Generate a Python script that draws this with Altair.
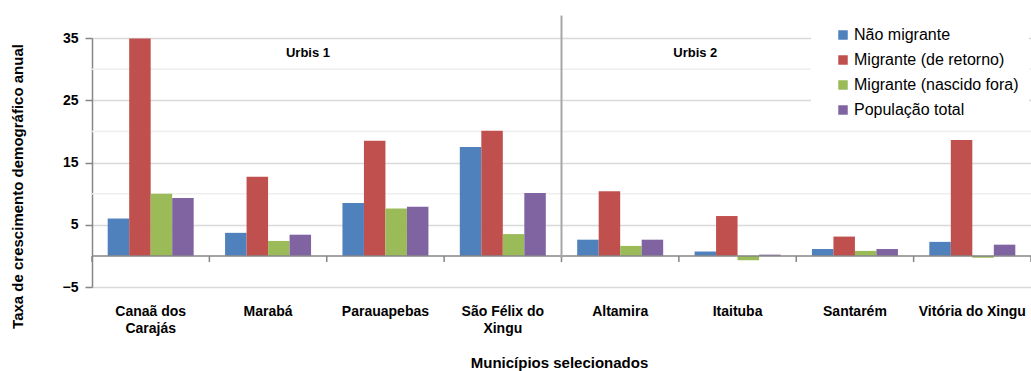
import altair as alt
import pandas as pd

# Municipalities (a "|" marks a line break in the axis label)
municipios = [
    "Canaã dos|Carajás", "Marabá", "Parauapebas", "São Félix do|Xingu",
    "Altamira", "Itaituba", "Santarém", "Vitória do Xingu",
]
series = ["Não migrante", "Migrante (de retorno)", "Migrante (nascido fora)", "População total"]

nao_migrante = [6.0, 3.7, 8.5, 17.5, 2.6, 0.7, 1.1, 2.25]
migrante_retorno = [34.9, 12.7, 18.5, 20.1, 10.4, 6.4, 3.1, 18.6]
migrante_fora = [10.0, 2.4, 7.6, 3.5, 1.6, -0.7, 0.8, -0.3]
populacao_total = [9.3, 3.4, 7.9, 10.1, 2.6, 0.2, 1.1, 1.8]

colors = ["#4F81BD", "#C0504D", "#9BBB59", "#8064A2"]
y_major = [-5, 5, 15, 25, 35]
y_minor = [10, 20, 30]
groups = ["Urbis 1", "Urbis 2"]

FONT = "Liberation Sans"
AXIS_GRAY = "#868686"

rows = []
for s, vals in zip(series, [nao_migrante, migrante_retorno, migrante_fora, populacao_total]):
    for m, v in zip(municipios, vals):
        rows.append({"municipio": m, "serie": s, "valor": v})
df = pd.DataFrame(rows)

x_scale = alt.Scale(domain=municipios, paddingInner=0, paddingOuter=0)
y_scale = alt.Scale(domain=[-5, 35], nice=False)

bars = alt.Chart(df).mark_bar().encode(
    x=alt.X(
        "municipio:N", sort=municipios, scale=x_scale,
        axis=alt.Axis(
            title="Municípios selecionados",
            labelExpr="split(datum.label, '|')",
            labelAngle=0, domain=False, ticks=False, grid=False,
            labelFont=FONT, labelFontSize=14, labelFontWeight="bold", labelColor="#000000",
            labelPadding=28, labelBaseline="alphabetic", labelLineHeight=17,
            labelOverlap=False, labelLimit=0,
            titleFont=FONT, titleFontSize=15, titleFontWeight="bold", titleColor="#000000",
            titleX=467, titleY=80, titleBaseline="alphabetic", titleAlign="center",
        ),
    ),
    xOffset=alt.XOffset(
        "serie:N", sort=series,
        scale=alt.Scale(domain=series, paddingInner=0, paddingOuter=0.73),
    ),
    y=alt.Y(
        "valor:Q", scale=y_scale,
        axis=alt.Axis(
            values=y_major, title="Taxa de crescimento demográfico anual",
            domainColor=AXIS_GRAY, domainWidth=1.5, tickColor=AXIS_GRAY, tickSize=7, tickWidth=1.5,
            gridColor="#d9d9d9", gridWidth=1.5,
            labelFont=FONT, labelFontSize=14, labelFontWeight="bold", labelColor="#000000",
            labelPadding=7,
            titleFont=FONT, titleFontSize=15, titleFontWeight="bold", titleColor="#000000",
            titleAngle=270, titleX=-75, titleY=148, titleAlign="center", titleBaseline="middle",
        ),
    ),
    color=alt.Color(
        "serie:N", sort=series,
        scale=alt.Scale(domain=series, range=colors),
        legend=alt.Legend(
            title=None, orient="none", legendX=719, legendY=-21,
            fillColor="white", padding=10, symbolOffset=14,
            symbolType="square", symbolSize=90, symbolStrokeWidth=0,
            labelFont=FONT, labelFontSize=16, labelColor="#000000",
            labelOffset=3, rowPadding=9, labelLimit=0,
        ),
    ),
)

# lighter minor gridlines between labelled values
minor_grid = alt.Chart(pd.DataFrame({"valor": y_minor})).mark_rule(
    color="#eeeeee", strokeWidth=1.5
).encode(y=alt.Y("valor:Q", scale=y_scale))

# category axis line at zero
zero_line = alt.Chart(pd.DataFrame({"valor": [0]})).mark_rule(
    color=AXIS_GRAY, strokeWidth=1.5
).encode(y=alt.Y("valor:Q", scale=y_scale))

# tick marks at the boundaries between municipalities
tick_df = pd.DataFrame({"municipio": municipios, "valor": [0] * len(municipios), "fim": [-1] * len(municipios)})
cat_ticks = alt.Chart(tick_df).mark_rule(color=AXIS_GRAY, strokeWidth=1.5).encode(
    x=alt.X("municipio:N", sort=municipios, scale=x_scale, bandPosition=0),
    y=alt.Y("valor:Q", scale=y_scale),
    y2="fim:Q",
)
end_tick = alt.Chart(tick_df.tail(1)).mark_rule(color=AXIS_GRAY, strokeWidth=1.5).encode(
    x=alt.X("municipio:N", sort=municipios, scale=x_scale, bandPosition=1),
    y=alt.Y("valor:Q", scale=y_scale),
    y2="fim:Q",
)

# vertical divider between the two groups of municipalities
divider_df = pd.DataFrame({"municipio": ["Altamira"], "valor": [38.6], "fim": [-0.3]})
divider = alt.Chart(divider_df).mark_rule(color="#a6a6a6", strokeWidth=2).encode(
    x=alt.X("municipio:N", sort=municipios, scale=x_scale, bandPosition=0),
    y=alt.Y("valor:Q", scale=y_scale),
    y2="fim:Q",
)

# group annotations
label1 = alt.Chart(pd.DataFrame({"municipio": ["Marabá"], "valor": [32.6], "txt": [groups[0]]})).mark_text(
    font=FONT, fontSize=13, fontWeight="bold", color="#000000", baseline="middle"
).encode(
    x=alt.X("municipio:N", sort=municipios, scale=x_scale, bandPosition=0.84),
    y=alt.Y("valor:Q", scale=y_scale),
    text="txt:N",
)
label2 = alt.Chart(pd.DataFrame({"municipio": ["Itaituba"], "valor": [32.6], "txt": [groups[1]]})).mark_text(
    font=FONT, fontSize=13, fontWeight="bold", color="#000000", baseline="middle"
).encode(
    x=alt.X("municipio:N", sort=municipios, scale=x_scale, bandPosition=0.14),
    y=alt.Y("valor:Q", scale=y_scale),
    text="txt:N",
)

chart = alt.layer(
    minor_grid, bars, zero_line, cat_ticks, end_tick, divider, label1, label2
).properties(
    width=939, height=249,
    padding={"left": 92, "top": 38, "right": 0, "bottom": 84},
    autosize=alt.AutoSizeParams(type="none"),
    background="white",
).configure_view(stroke=None)

chart.save("out.html", embed_options={"renderer": "svg", "actions": False})
